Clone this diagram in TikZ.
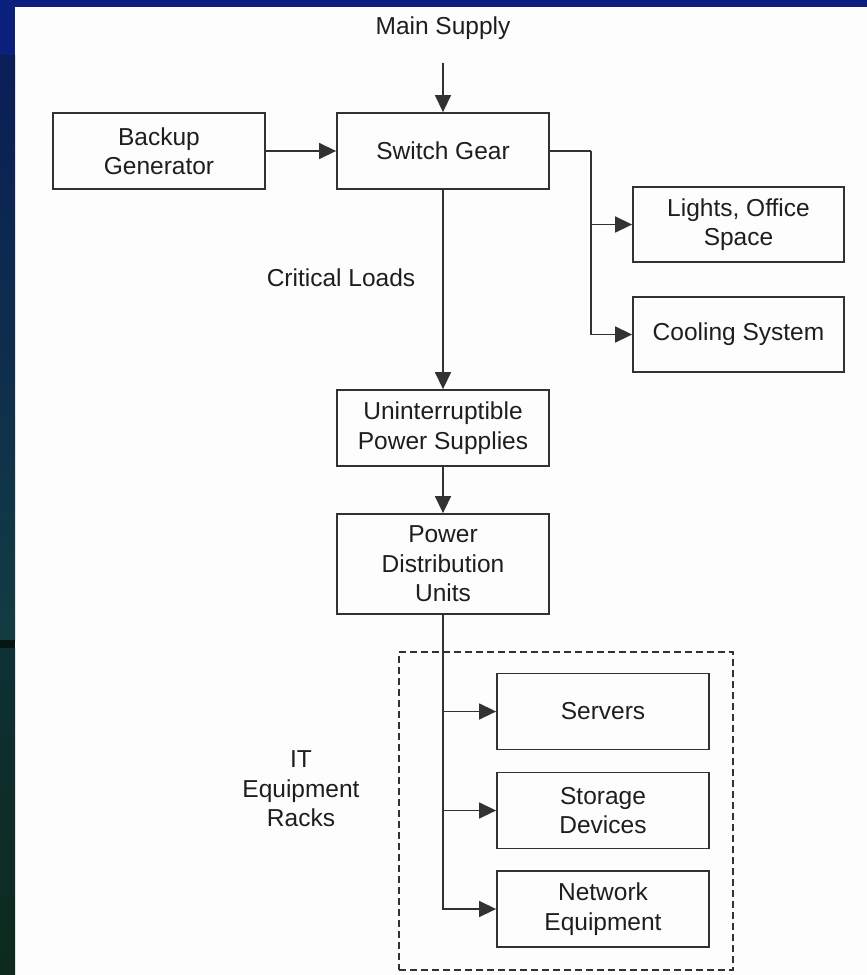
\documentclass[tikz,border=0pt]{standalone}
\usepackage{fontspec}
\setmainfont{Liberation Sans}
\usetikzlibrary{arrows, arrows.meta}
\usetikzlibrary{calc}

\definecolor{slideblue}{RGB}{11,32,124}
\definecolor{slidenavy}{RGB}{10,30,88}
\definecolor{slideteal}{RGB}{18,60,66}
\definecolor{slidedark}{RGB}{6,20,20}
\definecolor{slidegreen}{RGB}{13,42,28}
\definecolor{paper}{RGB}{253,253,253}
\definecolor{inkgray}{RGB}{30,30,30}
\definecolor{linegray}{RGB}{50,50,50}

\tikzset{
  label text/.style={align=center, inner sep=0pt, text=inkgray, font=\fontsize{24.5}{29.5}\selectfont},
  unit/.style={label text, draw=linegray, line width=1.8pt, minimum width=212pt, minimum height=76pt},
  feed/.style={draw=linegray, line width=1.5pt, -{Triangle[length=17pt, width=16pt]}},
  wire/.style={draw=linegray, line width=1.5pt}
}

\begin{document}
\begin{tikzpicture}[x=1pt, y=-1pt]
      \useasboundingbox (0, 0) rectangle (867, 975);
      \fill[paper] (0, 0) rectangle (867, 975);
      \fill[slideblue] (0, 0) rectangle (867, 7);
      \fill[slideblue] (0, 0) rectangle (15, 55);
      \shade[top color=slidenavy, bottom color=slideteal] (0, 55) rectangle (15, 640);
      \fill[slidedark] (0, 640) rectangle (15, 648);
      \shade[top color=slideteal!80!black, bottom color=slidegreen] (0, 648) rectangle (15, 975);

      \node[label text] (main) at (443, 28) {Main Supply};
      \coordinate (mainin) at (443, 63);
      \node[unit] (gen) at (159, 151) {Backup\\Generator};
      \node[unit] (switch) at (443, 151) {Switch Gear};
      \node[unit, minimum width=211pt, minimum height=75pt] (lights) at (738.5, 224.5) {Lights, Office\\Space};
      \node[unit, minimum width=211pt, minimum height=75pt] (cooling) at (738.5, 334.5) {Cooling System};
      \node[label text] (critical) at (341, 278) {Critical Loads};
      \node[unit] (ups) at (443, 428) {Uninterruptible\\Power Supplies};
      \node[unit, minimum height=100pt] (pdu) at (443, 564) {Power\\Distribution\\Units};
      \node[draw=linegray, line width=1.5pt, dash pattern=on 7pt off 4pt, minimum width=334pt, minimum height=318pt, inner sep=0pt] (racks) at (566, 811) {};
      \node[label text] (rackslabel) at (301, 789) {IT\\Equipment\\Racks};
      \node[unit] (servers) at (603, 711.5) {Servers};
      \node[unit] (storage) at (603, 810.5) {Storage\\Devices};
      \node[unit] (network) at (603, 909) {Network\\Equipment};
      \coordinate (tap) at (591, 151);

      \draw[feed] (mainin) -- (switch);
      \draw[feed] (gen) -- (switch);
      \draw[wire] (switch.east) -- (tap);
      \draw[feed] (tap) |- (lights);
      \draw[feed] (tap) |- (cooling);
      \draw[feed] (switch) -- (ups);
      \draw[feed] (ups) -- (pdu);
      \foreach \rack in {servers, storage, network}
        \draw[feed] (pdu.south) |- (\rack);
    \end{tikzpicture}
\end{document}
